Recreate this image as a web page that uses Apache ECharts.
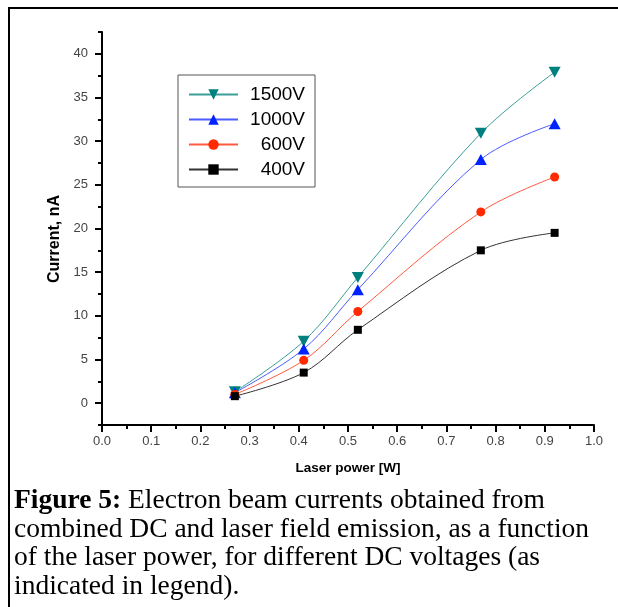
<!DOCTYPE html>
<html>
<head>
<meta charset="utf-8">
<script src="https://cdn.jsdelivr.net/npm/echarts@6/dist/echarts.min.js"></script>
<style>
  html, body { margin: 0; padding: 0; background: #fff; }
  #main { width: 618px; height: 607px; }
</style>
</head>
<body>
<div id="main"></div>
<script>
// laser power (W) for every measurement
var power = [0.27, 0.41, 0.52, 0.77, 0.92];
// beam current (nA) per DC voltage
var v1500 = [1.3, 7.1, 14.4, 30.9, 37.9];
var v1000 = [1.2, 6.2, 13.0, 27.9, 32.0];
var v600 = [1.0, 4.9, 10.5, 21.9, 25.9];
var v400 = [0.8, 3.5, 8.4, 17.5, 19.5];
var names = ['1500V', '1000V', '600V', '400V'];
var yMajor = [0, 5, 10, 15, 20, 25, 30, 35, 40];
var yMinor = [-2.5, 2.5, 7.5, 12.5, 17.5, 22.5, 27.5, 32.5, 37.5, 42.5];

function pairs(ys) {
    var out = [];
    for (var i = 0; i < power.length; i++) {
        out.push([power[i], ys[i]]);
    }
    return out;
}

var sans = 'Liberation Sans, Arial, sans-serif';
var serif = 'Liberation Serif, Times New Roman, serif';

var myChart = echarts.init(document.getElementById('main'));

var option = {
    backgroundColor: '#fff',
    animation: false,
    grid: { left: 102, right: 24, top: 32, bottom: 182 },
    legend: {
        orient: 'vertical',
        left: 178,
        top: 75,
        data: names,
        borderColor: '#555',
        borderWidth: 1,
        padding: [10, 10, 8, 10],
        itemWidth: 49,
        itemHeight: 13,
        itemGap: 6,
        formatter: function (name) { return '{a|' + name + '}'; },
        textStyle: {
            fontFamily: sans,
            fontSize: 19,
            color: '#000',
            rich: { a: { width: 62, align: 'right', fontFamily: sans, fontSize: 19, lineHeight: 19, color: '#000' } }
        }
    },
    xAxis: {
        type: 'value',
        min: 0,
        max: 1,
        interval: 0.1,
        name: 'Laser power [W]',
        nameLocation: 'middle',
        nameGap: 36,
        nameTextStyle: { fontFamily: sans, fontSize: 13.5, fontWeight: 'bold', color: '#000' },
        axisLine: { onZero: false, lineStyle: { color: '#000', width: 2 } },
        axisTick: { length: 7, lineStyle: { color: '#000', width: 2 } },
        minorTick: { show: true, splitNumber: 2, length: 4, lineStyle: { color: '#000', width: 2 } },
        splitLine: { show: false },
        axisLabel: {
            margin: 10,
            fontFamily: sans,
            fontSize: 13,
            color: '#444',
            formatter: function (v) { return v.toFixed(1); }
        }
    },
    yAxis: [
        {
            type: 'value',
            min: -2.5,
            max: 42.5,
            interval: 2.5,
            axisLine: { onZero: false, lineStyle: { color: '#000', width: 2 } },
            axisTick: { customValues: yMajor, length: 7, lineStyle: { color: '#000', width: 2 } },
            splitLine: { show: false },
            axisLabel: {
                customValues: yMajor,
                margin: 14,
                fontFamily: sans,
                fontSize: 13,
                color: '#444'
            }
        },
        {
            type: 'value',
            position: 'left',
            min: -2.5,
            max: 42.5,
            interval: 2.5,
            axisLine: { show: false },
            axisTick: { customValues: yMinor, length: 4, lineStyle: { color: '#000', width: 2 } },
            axisLabel: { show: false },
            splitLine: { show: false }
        }
    ],
    series: [
        {
            name: names[0],
            type: 'line',
            smooth: 0.35,
            data: pairs(v1500),
            symbol: 'path://M0,0 L10,0 L5,9 Z',
            symbolSize: [12, 11],
            itemStyle: { color: '#007f7f' },
            lineStyle: { color: '#3c9e98', width: 1 }
        },
        {
            name: names[1],
            type: 'line',
            smooth: 0.35,
            data: pairs(v1000),
            symbol: 'triangle',
            symbolSize: [12, 11],
            itemStyle: { color: '#0022ff' },
            lineStyle: { color: '#4a5cff', width: 1 }
        },
        {
            name: names[2],
            type: 'line',
            smooth: 0.35,
            data: pairs(v600),
            symbol: 'circle',
            symbolSize: 9,
            itemStyle: { color: '#ff2a00' },
            lineStyle: { color: '#ff5a40', width: 1 }
        },
        {
            name: names[3],
            type: 'line',
            smooth: 0.35,
            data: pairs(v400),
            symbol: 'rect',
            symbolSize: 8,
            itemStyle: { color: '#000' },
            lineStyle: { color: '#333', width: 1 }
        }
    ],
    graphic: [
        {
            type: 'polyline',
            shape: { points: [[9, 607], [9, 8], [618, 8]] },
            style: { stroke: '#000', lineWidth: 2, fill: null }
        },
        {
            // y axis title
            type: 'text',
            x: 55,
            y: 239,
            rotation: Math.PI / 2,
            style: {
                text: 'Current, nA',
                font: 'bold 16px ' + sans,
                fill: '#000',
                align: 'center',
                verticalAlign: 'middle'
            }
        },
        {
            type: 'text',
            left: 14,
            top: 487,
            style: {
                text: '{b|Figure 5:} Electron beam currents obtained from\n' +
                      'combined DC and laser field emission, as a function\n' +
                      'of the laser power, for different DC voltages (as\n' +
                      'indicated in legend).',
                font: '27.5px ' + serif,
                fill: '#000',
                lineHeight: 28.5,
                rich: {
                    b: { fontFamily: serif, fontSize: 27.5, fontWeight: 'bold', fill: '#000', lineHeight: 28.5 }
                }
            }
        }
    ]
};

myChart.setOption(option);
</script>
</body>
</html>
